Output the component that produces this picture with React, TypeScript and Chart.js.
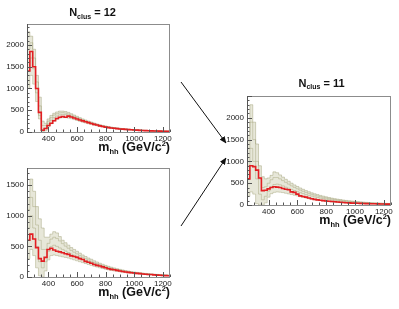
import React, { useEffect, useRef } from 'react';
import { Chart, registerables } from 'chart.js';

Chart.register(...registerables);

// Bin edges of m_hh (GeV/c^2)
const EDGES = [
  250, 270, 290, 310, 330, 350, 370, 390, 410, 430,
  450, 470, 490, 510, 530, 550, 570, 590, 610, 630,
  650, 670, 690, 710, 730, 750, 770, 790, 810, 830,
  850, 870, 890, 910, 930, 950, 970, 990, 1010, 1030,
  1050, 1070, 1090, 1110, 1130, 1150, 1170, 1190, 1210, 1230, 1250,
];

const X_TICKS = [400, 600, 800, 1000, 1200];

// Panel A: N_clus = 12 (top-left)
const A_YTICKS = [0, 500, 1000, 1500, 2000];
const A_YMAX = 2480;
const A_RED = [
  1400, 1850, 1500, 1000, 450, 40, 80, 150, 200, 260,
  310, 340, 355, 340, 365, 345, 320, 300, 275, 255,
  235, 215, 195, 175, 160, 140, 125, 112, 100, 92,
  85, 78, 70, 66, 60, 55, 50, 46, 42, 38,
  35, 32, 29, 26, 24, 22, 20, 18, 16, 14,
];
const A_UP = [
  2300, 2200, 1900, 1300, 800, 250, 200, 300, 380, 430,
  460, 480, 480, 470, 450, 420, 390, 360, 330, 300,
  275, 250, 228, 205, 185, 168, 152, 138, 125, 113,
  103, 94, 86, 78, 71, 65, 59, 54, 50, 45,
  42, 38, 35, 32, 29, 27, 25, 23, 21, 19,
];
const A_M1 = [
  1900, 2050, 1700, 1150, 600, 150, 150, 250, 330, 390,
  420, 440, 445, 435, 415, 390, 360, 335, 305, 278,
  255, 232, 210, 190, 172, 155, 140, 127, 115, 104,
  95, 87, 79, 72, 66, 60, 55, 50, 46, 42,
  38, 35, 32, 29, 27, 25, 23, 21, 19, 17,
];
const A_M2 = [
  1600, 1700, 1450, 900, 380, 60, 90, 190, 270, 330,
  370, 395, 405, 400, 385, 360, 335, 310, 285, 260,
  240, 218, 198, 180, 163, 147, 133, 120, 109, 99,
  90, 82, 75, 68, 62, 57, 52, 48, 44, 40,
  36, 33, 30, 27, 25, 23, 21, 19, 17, 16,
];
const A_LO = [
  1000, 1300, 1100, 700, 300, 0, 30, 120, 190, 250,
  290, 320, 330, 330, 320, 305, 285, 265, 245, 225,
  208, 190, 172, 157, 143, 128, 115, 104, 94, 86,
  78, 71, 64, 59, 54, 49, 45, 41, 37, 34,
  31, 28, 26, 23, 21, 19, 18, 16, 14, 13,
];

// Panel B: bottom-left
const B_YTICKS = [0, 500, 1000, 1500];
const B_YMAX = 1780;
const B_RED = [
  600, 700, 620, 480, 300, 260, 320, 450, 470, 440,
  420, 410, 395, 380, 370, 345, 335, 320, 300, 285,
  255, 240, 225, 205, 190, 180, 165, 150, 135, 125,
  118, 108, 98, 90, 82, 75, 70, 66, 60, 55,
  50, 46, 42, 40, 35, 30, 28, 25, 22, 20,
];
const B_UP = [
  1300, 1600, 1400, 1150, 950, 800, 650, 650, 700, 740,
  720, 660, 600, 560, 520, 480, 450, 420, 390, 360,
  335, 310, 290, 265, 245, 225, 208, 190, 175, 160,
  148, 136, 125, 115, 105, 97, 89, 82, 76, 70,
  64, 59, 55, 50, 46, 43, 40, 37, 34, 31,
];
const B_M1 = [
  1100, 1300, 1150, 850, 600, 450, 450, 550, 620, 650,
  630, 590, 545, 505, 470, 435, 405, 378, 350, 325,
  300, 280, 258, 238, 220, 203, 187, 172, 158, 145,
  133, 123, 113, 104, 95, 88, 81, 74, 69, 63,
  58, 54, 50, 46, 42, 39, 36, 33, 30, 28,
];
const B_M2 = [
  800, 1000, 800, 500, 250, 150, 250, 420, 500, 520,
  500, 475, 450, 425, 400, 375, 355, 333, 312, 292,
  272, 253, 235, 218, 202, 187, 172, 158, 145, 133,
  123, 113, 104, 95, 88, 81, 74, 68, 63, 58,
  53, 49, 45, 41, 38, 35, 32, 30, 27, 25,
];
const B_LO = [
  300, 450, 350, 150, 20, 0, 100, 280, 350, 360,
  350, 340, 330, 320, 310, 295, 280, 265, 250, 235,
  220, 205, 190, 176, 163, 150, 138, 127, 117, 108,
  100, 92, 85, 78, 72, 66, 61, 56, 52, 48,
  44, 40, 37, 34, 31, 29, 27, 25, 22, 20,
];

// Panel C: N_clus = 11 (right)
const C_YTICKS = [0, 500, 1000, 1500, 2000];
const C_YMAX = 2500;
const C_RED = [
  600, 900, 880, 800, 620, 330, 340, 370, 400, 420,
  410, 400, 380, 360, 350, 300, 290, 250, 210, 195,
  180, 160, 145, 130, 118, 108, 100, 92, 85, 80,
  75, 68, 62, 57, 52, 48, 44, 42, 40, 37,
  35, 32, 30, 28, 27, 25, 24, 22, 21, 20,
];
const C_UP = [
  1600, 2300, 1900, 1400, 900, 650, 600, 620, 680, 760,
  740, 690, 640, 590, 545, 500, 460, 425, 390, 360,
  330, 305, 280, 258, 238, 220, 203, 187, 172, 158,
  146, 134, 124, 114, 105, 97, 90, 83, 77, 71,
  66, 61, 57, 53, 49, 46, 43, 40, 37, 35,
];
const C_M1 = [
  1300, 1900, 1500, 1000, 600, 400, 420, 500, 580, 630,
  630, 600, 560, 520, 480, 440, 405, 372, 342, 315,
  290, 268, 246, 226, 208, 192, 177, 163, 150, 138,
  127, 117, 108, 99, 91, 84, 78, 72, 66, 61,
  57, 53, 49, 45, 42, 39, 37, 34, 32, 30,
];
const C_M2 = [
  900, 1300, 1000, 600, 250, 120, 200, 320, 420, 470,
  480, 465, 440, 410, 385, 358, 332, 308, 285, 262,
  242, 222, 205, 188, 173, 160, 147, 135, 124, 114,
  105, 97, 89, 82, 75, 69, 64, 59, 55, 51,
  47, 43, 40, 37, 34, 32, 30, 28, 26, 24,
];
const C_LO = [
  200, 300, 250, 30, 0, 0, 50, 180, 260, 290,
  300, 295, 285, 270, 255, 240, 225, 210, 190, 175,
  160, 145, 132, 120, 110, 100, 92, 84, 77, 71,
  65, 60, 55, 51, 47, 43, 40, 37, 34, 32,
  29, 27, 25, 23, 22, 20, 19, 17, 16, 15,
];

const RED = 'rgb(226,30,34)';
const BAND_LINE = 'rgba(145,145,100,0.45)';
const BAND_FILL = 'rgba(185,185,145,0.35)';
const FONT = '"Liberation Sans", Arial, Helvetica, sans-serif';

function steps(vals: number[]) {
  const pts = [{ x: EDGES[0], y: 0 }];
  vals.forEach((v, i) => pts.push({ x: EDGES[i], y: v }));
  pts.push({ x: EDGES[EDGES.length - 1], y: vals[vals.length - 1] });
  return pts;
}

const framePlugin = {
  id: 'frame',
  afterDatasetsDraw(chart: any) {
    const { ctx, chartArea: a, scales } = chart;
    const xs = scales.x;
    const ys = scales.y;
    ctx.save();
    ctx.strokeStyle = '#8c8c8c';
    ctx.lineWidth = 1;
    ctx.strokeRect(Math.round(a.left) + 0.5, Math.round(a.top) + 0.5,
      Math.round(a.right - a.left) - 1, Math.round(a.bottom - a.top));
    ctx.strokeStyle = '#555';
    ctx.beginPath();
    const ymax = ys.max;
    for (let v = 0; v <= ymax; v += 100) {
      const y = Math.round(ys.getPixelForValue(v)) + 0.5;
      const len = v % 500 === 0 ? 5 : 2.5;
      ctx.moveTo(a.left, y);
      ctx.lineTo(a.left + len, y);
    }
    for (let v = 250; v <= 1250; v += 50) {
      const x = Math.round(xs.getPixelForValue(v)) + 0.5;
      const len = v % 200 === 0 ? 5 : 2.5;
      ctx.moveTo(x, a.bottom);
      ctx.lineTo(x, a.bottom - len);
    }
    ctx.stroke();
    ctx.beginPath();
    ctx.moveTo(Math.round(a.left) + 0.5, a.top);
    ctx.lineTo(Math.round(a.left) + 0.5, a.bottom);
    ctx.stroke();
    ctx.restore();
  },
};

type PanelCfg = {
  red: number[]; up: number[]; m1: number[]; m2: number[]; lo: number[];
  yticks: number[]; ymax: number;
  L: number; T: number; R: number; B: number;
};

function Panel({ cfg }: { cfg: PanelCfg }) {
  const ref = useRef<HTMLCanvasElement>(null);
  useEffect(() => {
    const YW = 30;
    const XH = 14;
    const tickFont = { family: FONT, size: 8 };
    const band = (vals: number[], order: number, fill: any) => ({
      data: steps(vals), borderColor: BAND_LINE, borderWidth: 0.9, stepped: true,
      pointRadius: 0, fill, backgroundColor: BAND_FILL, order,
    });
    const chart = new Chart(ref.current as HTMLCanvasElement, {
      type: 'line',
      data: {
        datasets: [
          { data: steps(cfg.red), borderColor: RED, borderWidth: 1.6, stepped: true, pointRadius: 0, fill: false, order: 0 } as any,
          band(cfg.up, 1, '+1'),
          band(cfg.m1, 2, '+1'),
          band(cfg.m2, 3, '+1'),
          band(cfg.lo, 4, false),
        ],
      },
      options: {
        responsive: false,
        animation: false,
        events: [],
        layout: {
          padding: { left: cfg.L - YW, top: cfg.T, right: 399 - cfg.R, bottom: 309 - cfg.B - XH },
        },
        plugins: { legend: { display: false }, tooltip: { enabled: false } },
        scales: {
          x: {
            type: 'linear', min: 250, max: 1250,
            grid: { display: false, drawTicks: false }, border: { display: false },
            ticks: { font: tickFont, color: '#222', padding: 2, maxRotation: 0, autoSkip: false, callback: (v: any) => String(v) },
            afterBuildTicks: (s: any) => { s.ticks = X_TICKS.map((v) => ({ value: v })); },
            afterFit: (s: any) => { s.height = XH; },
          },
          y: {
            type: 'linear', min: 0, max: cfg.ymax,
            grid: { display: false, drawTicks: false }, border: { display: false },
            ticks: { font: tickFont, color: '#222', padding: 3, autoSkip: false, callback: (v: any) => String(v) },
            afterBuildTicks: (s: any) => { s.ticks = cfg.yticks.map((v) => ({ value: v })); },
            afterFit: (s: any) => { s.width = YW; },
          },
        },
      } as any,
      plugins: [framePlugin],
    });
    return () => chart.destroy();
  }, []);
  return (
    <canvas ref={ref} width={399} height={309}
      style={{ position: 'absolute', left: 0, top: 0, width: 399, height: 309 }} />
  );
}

const PANELS: PanelCfg[] = [
  { red: A_RED, up: A_UP, m1: A_M1, m2: A_M2, lo: A_LO, yticks: A_YTICKS, ymax: A_YMAX, L: 27, T: 24, R: 170, B: 132 },
  { red: B_RED, up: B_UP, m1: B_M1, m2: B_M2, lo: B_LO, yticks: B_YTICKS, ymax: B_YMAX, L: 27, T: 168, R: 170, B: 277 },
  { red: C_RED, up: C_UP, m1: C_M1, m2: C_M2, lo: C_LO, yticks: C_YTICKS, ymax: C_YMAX, L: 247, T: 96, R: 391, B: 205 },
];

function AxisTitle({ x, y }: { x: number; y: number }) {
  return (
    <text x={x} y={y} textAnchor="end" fontFamily={FONT} fontWeight="bold" fontSize={12.5} fill="#111">
      m<tspan fontSize={7.5} dy={3}>hh</tspan>
      <tspan dy={-3}> (GeV/c</tspan>
      <tspan fontSize={7.5} dy={-5}>2</tspan>
      <tspan dy={5}>)</tspan>
    </text>
  );
}

function Title({ x, y, n }: { x: number; y: number; n: string }) {
  return (
    <text x={x} y={y} textAnchor="middle" fontFamily={FONT} fontWeight="bold" fontSize={11} fill="#111">
      N<tspan fontSize={7} dy={2.5}>clus</tspan>
      <tspan dy={-2.5}>{' = ' + n}</tspan>
    </text>
  );
}

export default function App() {
  useEffect(() => {
    document.body.style.margin = '0';
  }, []);
  return (
    <div style={{ position: 'absolute', left: 0, top: 0, width: 399, height: 309, background: '#fff', overflow: 'hidden' }}>
      {PANELS.map((p, i) => <Panel key={i} cfg={p} />)}
      <svg width={399} height={309} style={{ position: 'absolute', left: 0, top: 0, pointerEvents: 'none' }}>
        <defs>
          <marker id="ah" markerWidth="7" markerHeight="6" refX="6.5" refY="3" orient="auto" markerUnits="userSpaceOnUse">
            <path d="M0,0 L7,3 L0,6 Z" fill="#111" />
          </marker>
        </defs>
        <Title x={92.5} y={16} n="12" />
        <Title x={321.5} y={86.5} n="11" />
        <AxisTitle x={170} y={151} />
        <AxisTitle x={170} y={296} />
        <AxisTitle x={391} y={224} />
        <line x1={181} y1={82} x2={226} y2={143} stroke="#111" strokeWidth={1} markerEnd="url(#ah)" />
        <line x1={181} y1={226} x2={226} y2={158} stroke="#111" strokeWidth={1} markerEnd="url(#ah)" />
      </svg>
    </div>
  );
}
